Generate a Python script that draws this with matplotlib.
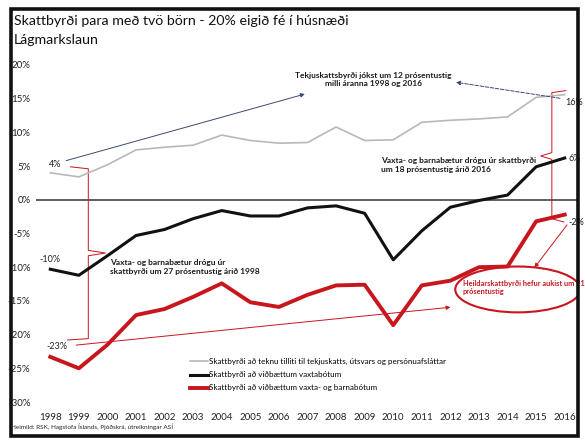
import matplotlib
matplotlib.use('Agg')
import matplotlib.pyplot as plt
from matplotlib.patches import Ellipse, Rectangle
from matplotlib.lines import Line2D

plt.rcParams['font.family'] = ['Lato', 'DejaVu Sans']

## Data (% of income)

years = list(range(1998, 2017))
tekjuskattur = [4.0, 3.4, 5.2, 7.4, 7.8, 8.1, 9.6, 8.8, 8.4, 8.5,
                10.8, 8.8, 8.9, 11.5, 11.8, 12.0, 12.3, 15.2, 15.6]
vaxtabaetur = [-10.3, -11.2, -8.3, -5.3, -4.4, -2.8, -1.6, -2.4, -2.4, -1.2,
               -0.9, -2.0, -8.9, -4.6, -1.1, -0.1, 0.7, 4.9, 6.2]
barnabaetur = [-23.3, -25.0, -21.5, -17.1, -16.2, -14.4, -12.4, -15.2, -15.9, -14.1,
               -12.7, -12.6, -18.6, -12.7, -12.0, -10.0, -9.9, -3.2, -2.2]

labels = ['Skattbyrði að teknu tilliti til tekjuskatts, útsvars og persónuafsláttar',
          'Skattbyrði að viðbættum vaxtabótum',
          'Skattbyrði að viðbættum vaxta- og barnabótum']
y_ticks = list(range(-30, 21, 5))

RED = '#c8161d'
NOTE = '#1a1a1a'

## Figure setup

W, H = 585, 442
fig = plt.figure(figsize=(W / 100, H / 100), dpi=100)
ax = fig.add_axes([36 / W, 1 - 402 / H, 543 / W, 337 / H])

ax.set_xlim(years[0] - 0.5, years[-1] + 0.5)
ax.set_ylim(-30, 20)
for s in ax.spines.values():
    s.set_visible(False)
ax.set_xticks(years)
ax.set_yticks(y_ticks)
ax.set_yticklabels([f'{t}%' for t in y_ticks])
ax.tick_params(length=0, labelsize=7, colors='#222222')
ax.tick_params(axis='x', pad=8)
ax.tick_params(axis='y', pad=4)
ax.axhline(0, color='#333333', lw=1.1, zorder=1)

## Series

ax.plot(years, tekjuskattur, color='#b8b8b8', lw=1.2, label=labels[0], zorder=3)
ax.plot(years, vaxtabaetur, color='#111111', lw=2.2, label=labels[1], zorder=3)
ax.plot(years, barnabaetur, color=RED, lw=2.8, label=labels[2], zorder=3)

ax.legend(loc='upper left', bbox_to_anchor=(183 / W, 1 - 351 / H), bbox_transform=fig.transFigure,
          frameon=False, fontsize=5.8, handlelength=2.2, handletextpad=0.1, labelspacing=0.75)

## End point labels

def end_label(x, y, dx, dy, ha='center'):
    ax.annotate(f'{y:.0f}%', (x, y), xytext=(dx, dy), textcoords='offset points',
                ha=ha, va='center', fontsize=6.5, color='#222222')

end_label(years[0], tekjuskattur[0], 3.6, 5.8)
end_label(years[0], vaxtabaetur[0], 0, 7.2)
end_label(years[0], barnabaetur[0], 5, 7.2)
end_label(years[-1], tekjuskattur[-1], 0.5, -5.8, ha='left')
end_label(years[-1], vaxtabaetur[-1], 3.0, -0.7, ha='left')
end_label(years[-1], barnabaetur[-1], 3.0, -5.8, ha='left')

## Notes and arrows

ax.text(2009.3, 17.85, 'Tekjuskattsbyrði jókst um 12 prósentustig\nmilli áranna 1998 og 2016',
        ha='center', va='center', fontsize=6, fontweight='bold', color=NOTE, linespacing=1.3)
ax.annotate('', xy=(2007.0, 15.8), xytext=(1998.46, 5.7),
            arrowprops=dict(arrowstyle='-|>', color='#3c4a70', lw=0.7, mutation_scale=6))
ax.annotate('', xy=(2012.1, 17.5), xytext=(2015.93, 15.0),
            arrowprops=dict(arrowstyle='-|>', color='#3c4a70', lw=0.7, ls='--', mutation_scale=6))

ax.text(2009.56, 5.2, 'Vaxta- og barnabætur drógu úr skattbyrði\num 18 prósentustig árið 2016',
        ha='left', va='center', fontsize=6, fontweight='bold', color=NOTE, linespacing=1.3)
ax.text(2000.1, -10.0, 'Vaxta- og barnabætur drógu úr\nskattbyrði um 27 prósentustig árið 1998',
        ha='left', va='center', fontsize=6, fontweight='bold', color=NOTE, linespacing=1.3)

# hand-drawn braces
ax.add_line(Line2D([1998.7, 1999.33, 1999.33, 1999.93, 1999.33, 1999.33, 1998.6],
                   [4.9, 4.6, -7.5, -7.9, -8.3, -20.6, -20.8], color=RED, lw=0.7, zorder=2))
ax.add_line(Line2D([2016.04, 2015.55, 2015.55, 2015.16, 2015.55, 2015.55, 2015.97],
                   [16.2, 15.9, 7.0, 6.5, 6.0, -2.8, -3.3], color=RED, lw=0.7, zorder=2))

ax.add_patch(Ellipse((2014.36, -13.3), 4.38, 6.8, fill=False, ec=RED, lw=1.5, zorder=4))
ax.text(2012.43, -13.0, 'Heildarskattbyrði hefur aukist um 21\nprósentustig',
        ha='left', va='center', fontsize=5.3, fontweight='bold', color=RED, linespacing=1.3)
ax.annotate('', xy=(2012.1, -15.9), xytext=(1998.81, -21.6),
            arrowprops=dict(arrowstyle='-|>', color=RED, lw=0.7, mutation_scale=6))
ax.annotate('', xy=(2014.88, -10.4), xytext=(2016.14, -3.4),
            arrowprops=dict(arrowstyle='-|>', color=RED, lw=0.7, mutation_scale=6))

## Slide title, source and border

fig.text(14 / W, 1 - 21 / H, 'Skattbyrði para með tvö börn - 20% eigið fé í húsnæði',
         ha='left', va='center', fontsize=10.2, color='#111111')
fig.text(14 / W, 1 - 40 / H, 'Lágmarkslaun', ha='left', va='center', fontsize=10.2, color='#111111')
fig.text(11 / W, 1 - 427 / H, 'Heimild: RSK, Hagstofa Íslands, Þjóðskrá, útreikningar ASÍ',
         ha='left', va='center', fontsize=4.6, color='#222222')

fig.patches.append(Rectangle((11 / W, 1 - 436 / H), 567 / W, 427 / H, transform=fig.transFigure,
                             fill=False, ec='#111111', lw=2.6))

fig.savefig('out.png', dpi=100)
